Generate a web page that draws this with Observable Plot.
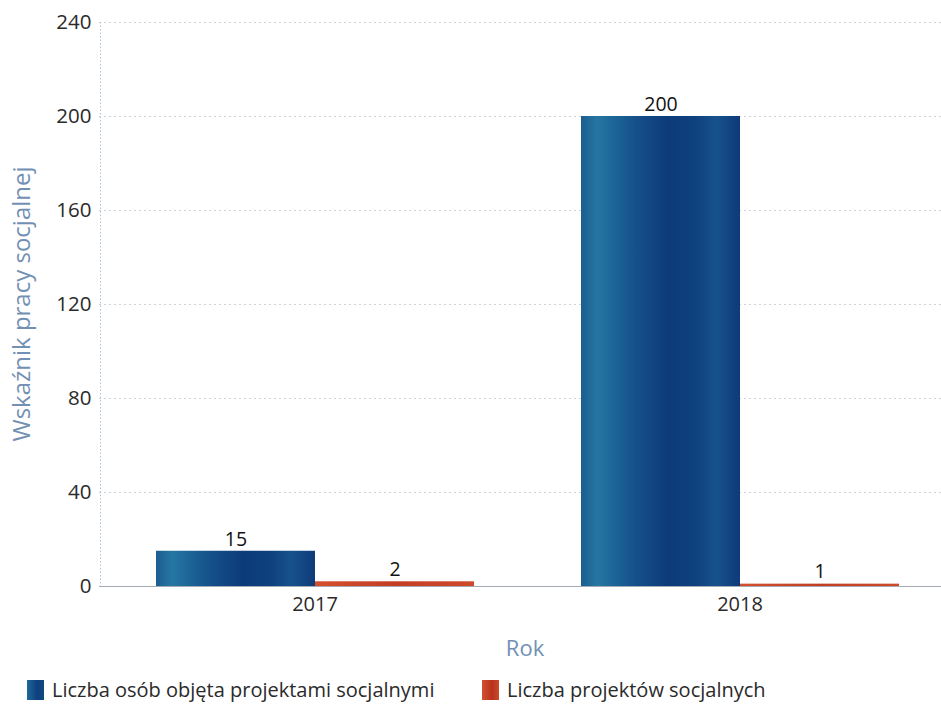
<!DOCTYPE html>
<html>
<head>
<meta charset="utf-8">
<script src="https://cdn.jsdelivr.net/npm/d3@7"></script>
<script src="https://cdn.jsdelivr.net/npm/@observablehq/plot@0.6"></script>
<style>
  body { margin: 0; background: #fff; font-family: "Open Sans", sans-serif; }
  #legend { position: relative; height: 39px; font-size: 20px; color: #2a2a2a; }
  .item { position: absolute; top: 0; height: 39px; display: flex; align-items: center; white-space: nowrap; }
  .sw { width: 17px; height: 20px; margin-right: 8px; }
</style>
</head>
<body>
<div id="chart"></div>
<div id="legend"></div>
<script>
const years = ["2017", "2018"];
const series = ["Liczba osób objęta projektami socjalnymi", "Liczba projektów socjalnych"];
const osoby = [15, 200];
const projekty = [2, 1];
const yTicks = [0, 40, 80, 120, 160, 200, 240];
const fills = ["url(#gradBlue)", "url(#gradRed)"];
const swatchCss = [
  "linear-gradient(90deg, #1d6a98, #0e3f7e 60%, #12497f)",
  "linear-gradient(90deg, #d5502e, #b8331f 60%, #cc4a2a)"
];
const legendLeft = [27, 482];

const data = years.flatMap((y, i) => [
  {year: y, series: series[0], value: osoby[i]},
  {year: y, series: series[1], value: projekty[i]}
]);

const ext = -56;
const chart = Plot.plot({
  width: 941,
  height: 670,
  marginTop: 22,
  marginLeft: 100,
  marginRight: 0,
  marginBottom: 84,
  style: {fontFamily: "Open Sans, sans-serif", background: "#fff"},
  fx: {domain: years, range: [100, 954], paddingInner: 0.2488, paddingOuter: 0.1268, label: "Rok"},
  x: {domain: series, padding: 0, axis: null},
  y: {domain: [0, 240], ticks: yTicks},
  color: {domain: series, range: fills},
  marks: [
    Plot.ruleY(yTicks.slice(1), {stroke: "#cfd3d6", strokeDasharray: "2,3", insetLeft: ext, insetRight: ext}),
    Plot.barY(data, {fx: "year", x: "series", y: "value", fill: "series"}),
    Plot.ruleY([0], {stroke: "#a3acb5", strokeWidth: 1, insetLeft: ext, insetRight: ext}),
    Plot.text(data, {fx: "year", x: "series", y: "value", text: d => String(d.value), dy: -12, fontSize: 19.5, fill: "#111"}),
    Plot.axisY({ticks: yTicks, tickSize: 0, tickPadding: 64, fontSize: 20.5, label: "Wskaźnik pracy socjalnej", labelAnchor: "center", labelArrow: "none"}),
    Plot.axisFx({anchor: "bottom", tickSize: 0, tickPadding: 10, fontSize: 20, label: "Rok", labelAnchor: "center"})
  ]
});

const svgNode = chart.tagName.toLowerCase() === "svg" ? chart : chart.querySelector("svg");
const svg = d3.select(svgNode);
const defs = svg.insert("defs", ":first-child");
const gb = defs.append("linearGradient").attr("id", "gradBlue").attr("x1", "0").attr("x2", "1").attr("y1", "0").attr("y2", "0");
[["0", "#1b5d8f"], ["0.1", "#2676a2"], ["0.2", "#1d6798"], ["0.35", "#154f89"], ["0.55", "#0d3b7a"], ["0.72", "#0f417f"], ["0.85", "#17528c"], ["1", "#0e3a79"]]
  .forEach(([o, c]) => gb.append("stop").attr("offset", o).attr("stop-color", c));
const gr = defs.append("linearGradient").attr("id", "gradRed").attr("x1", "0").attr("x2", "1").attr("y1", "0").attr("y2", "0");
[["0", "#d4502d"], ["0.5", "#c23d24"], ["1", "#cf4a2a"]]
  .forEach(([o, c]) => gr.append("stop").attr("offset", o).attr("stop-color", c));

// dotted vertical axis line at the left edge of the frame
svg.append("line").attr("x1", 100.5).attr("x2", 100.5).attr("y1", 22).attr("y2", 586)
  .attr("stroke", "#a9c3dc").attr("stroke-dasharray", "1.5,2");

svg.selectAll("[aria-label='y-axis tick label'], [aria-label='fx-axis tick label']").attr("fill", "#2a2a2a");

// axis titles: colour, size and placement
const yl = svg.select("[aria-label='y-axis label'] text");
yl.attr("transform", "translate(22,304) rotate(-90)").attr("x", null).attr("y", null)
  .attr("text-anchor", "middle").attr("dy", "0.35em").attr("fill", "#7290b4").style("font-size", "24px");
const xl = svg.select("[aria-label='fx-axis label'] text");
xl.attr("transform", "translate(525,648)").attr("x", null).attr("y", null)
  .attr("text-anchor", "middle").attr("dy", "0.35em").attr("fill", "#7290b4").style("font-size", "22px");
svg.selectAll("[aria-label='y-axis label'], [aria-label='fx-axis label']").attr("transform", null);

document.getElementById("chart").appendChild(chart);

const legend = d3.select("#legend");
series.forEach((s, i) => {
  const it = legend.append("div").attr("class", "item").style("left", legendLeft[i] + "px");
  it.append("div").attr("class", "sw").style("background", swatchCss[i]);
  it.append("span").text(s);
});
</script>
</body>
</html>
